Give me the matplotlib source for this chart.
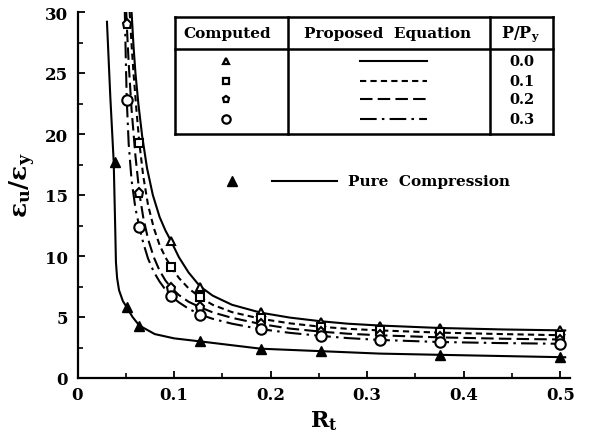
import matplotlib
matplotlib.use('Agg')
import matplotlib.pyplot as plt
from matplotlib.lines import Line2D
from matplotlib.ticker import MultipleLocator, FixedLocator
import numpy as np

nan = np.nan

# ---------------- data ----------------
load_ratio_labels = ['0.0', '0.1', '0.2', '0.3']

rt_computed = [0.051, 0.064, 0.097, 0.127, 0.19, 0.252, 0.313, 0.375, 0.5]
comp_p00 = [nan, nan, 11.2, 7.5, 5.4, 4.6, 4.3, 4.1, 3.9]
comp_p01 = [nan, 19.3, 9.1, 6.6, 4.9, 4.2, 3.9, 3.75, 3.5]
comp_p02 = [29.0, 15.2, 7.4, 5.8, 4.4, 3.8, 3.5, 3.35, 3.15]
comp_p03 = [22.8, 12.4, 6.7, 5.2, 4.0, 3.45, 3.1, 2.95, 2.8]

# proposed-equation curves
eq_p00_x = [0.056, 0.058, 0.060, 0.063, 0.067, 0.072, 0.078, 0.085, 0.091, 0.097, 0.105, 0.115, 0.127, 0.140, 0.160, 0.190, 0.220, 0.252, 0.280, 0.313, 0.375, 0.440, 0.505]
eq_p00_y = [30.0, 27.2, 25.0, 22.5, 19.8, 17.2, 15.0, 13.2, 12.1, 11.2, 9.9, 8.65, 7.5, 6.75, 6.0, 5.35, 4.95, 4.65, 4.45, 4.3, 4.1, 3.98, 3.9]
eq_p01_x = [0.054, 0.056, 0.058, 0.061, 0.064, 0.068, 0.073, 0.079, 0.085, 0.091, 0.097, 0.105, 0.115, 0.127, 0.140, 0.160, 0.190, 0.220, 0.252, 0.280, 0.313, 0.375, 0.440, 0.505]
eq_p01_y = [30.0, 27.3, 25.0, 22.0, 19.3, 16.6, 14.2, 12.3, 10.9, 9.9, 9.1, 8.2, 7.35, 6.6, 6.0, 5.4, 4.85, 4.48, 4.2, 4.03, 3.9, 3.72, 3.6, 3.5]
eq_p02_x = [0.0505, 0.051, 0.053, 0.056, 0.060, 0.064, 0.068, 0.073, 0.079, 0.085, 0.091, 0.097, 0.105, 0.115, 0.127, 0.140, 0.160, 0.190, 0.220, 0.252, 0.280, 0.313, 0.375, 0.440, 0.505]
eq_p02_y = [30.0, 29.0, 25.8, 22.0, 18.2, 15.2, 13.2, 11.4, 9.9, 8.8, 8.0, 7.4, 6.8, 6.25, 5.8, 5.38, 4.93, 4.42, 4.05, 3.8, 3.63, 3.5, 3.33, 3.22, 3.15]
eq_p03_x = [0.049, 0.050, 0.051, 0.053, 0.056, 0.060, 0.064, 0.068, 0.073, 0.079, 0.085, 0.091, 0.097, 0.105, 0.115, 0.127, 0.140, 0.160, 0.190, 0.220, 0.252, 0.280, 0.313, 0.375, 0.440, 0.505]
eq_p03_y = [30.0, 26.2, 22.8, 19.2, 16.2, 13.9, 12.4, 11.1, 9.8, 8.7, 7.9, 7.25, 6.7, 6.2, 5.68, 5.2, 4.85, 4.45, 4.0, 3.7, 3.45, 3.27, 3.12, 2.95, 2.86, 2.8]

# pure compression
pc_x = [0.039, 0.051, 0.064, 0.127, 0.19, 0.252, 0.375, 0.5]
pc_y = [17.7, 5.8, 4.3, 3.0, 2.4, 2.2, 1.9, 1.7]
pc_curve_x = [0.0305, 0.034, 0.0375, 0.039, 0.0398, 0.041, 0.043, 0.047, 0.051, 0.057, 0.064, 0.080, 0.100, 0.127, 0.190, 0.252, 0.313, 0.375, 0.440, 0.505]
pc_curve_y = [29.2, 23.0, 17.7, 12.5, 9.5, 8.2, 7.2, 6.3, 5.8, 5.0, 4.3, 3.6, 3.25, 3.0, 2.4, 2.2, 2.0, 1.9, 1.8, 1.7]

x_ticks = [0, 0.1, 0.2, 0.3, 0.4, 0.5]
x_tick_labels = ['0', '0.1', '0.2', '0.3', '0.4', '0.5']
y_ticks = [0, 5, 10, 15, 20, 25, 30]

# ---------------- styling ----------------
W, H = 599, 435
plt.rcParams['font.family'] = 'DejaVu Serif'
plt.rcParams['font.weight'] = 'bold'
plt.rcParams['mathtext.fontset'] = 'dejavuserif'

fig = plt.figure(figsize=(W / 100, H / 100), dpi=100)
fig.patch.set_facecolor('white')

L, R, T, B = 77.5, 570, 13, 379
ax = fig.add_axes([L / W, 1 - B / H, (R - L) / W, (B - T) / H])
ax.set_xlim(0, 0.51)
ax.set_ylim(0, 30)

for s in ['top', 'right']:
    ax.spines[s].set_visible(False)
for s in ['left', 'bottom']:
    ax.spines[s].set_linewidth(1.6)

ax.xaxis.set_major_locator(FixedLocator(x_ticks))
ax.set_xticklabels(x_tick_labels)
ax.xaxis.set_minor_locator(MultipleLocator(0.05))
ax.yaxis.set_major_locator(FixedLocator(y_ticks))
ax.yaxis.set_minor_locator(MultipleLocator(2.5))
ax.tick_params(which='major', direction='in', length=5, width=1.3, labelsize=12, pad=7)
ax.tick_params(which='minor', direction='in', length=3.5, width=1.2)
ax.tick_params(axis='x', which='major', pad=6)
for lab in ax.get_xticklabels() + ax.get_yticklabels():
    lab.set_fontweight('bold')

ax.set_xlabel(r'$\mathbf{R_t}$', fontsize=16, labelpad=4)
ax.set_ylabel(r'$\mathbf{\varepsilon_u/\varepsilon_y}$', fontsize=18)
ax.yaxis.set_label_coords(-0.08, 0.53)

lw = 1.5
styles = [dict(ls='-'),
          dict(ls=(0, (3, 2))),
          dict(ls=(0, (6, 2.5))),
          dict(ls=(0, (8, 2.5, 1.2, 2.5)))]
markers = [dict(marker='^', ms=6), dict(marker='s', ms=5.5),
           dict(marker='p', ms=6.5), dict(marker='o', ms=7.5)]

curves = [(eq_p00_x, eq_p00_y), (eq_p01_x, eq_p01_y), (eq_p02_x, eq_p02_y), (eq_p03_x, eq_p03_y)]
comps = [comp_p00, comp_p01, comp_p02, comp_p03]

for (cx, cy), st in zip(curves, styles):
    ax.plot(cx, cy, color='black', lw=lw, clip_on=True, **st)
for yv, mk in zip(comps, markers):
    ax.plot(rt_computed, yv, ls='none', mfc='white', mec='black', mew=1.5, zorder=5, clip_on=False, **mk)

ax.plot(pc_curve_x, pc_curve_y, color='black', lw=lw)
ax.plot(pc_x, pc_y, ls='none', marker='^', ms=7, color='black', zorder=5, clip_on=False)

# ---------------- legend table (figure pixel layout) ----------------
def fx(px):
    return px / W

def fy(py):
    return 1 - py / H

def fline(x0, y0, x1, y1, **kw):
    fig.add_artist(Line2D([fx(x0), fx(x1)], [fy(y0), fy(y1)], transform=fig.transFigure, color='black', **kw))

tl, tr, tt, tb = 175, 553, 18, 135
hb = 50
c1, c2 = 288, 490
blw = 1.8
fline(tl, tt, tr, tt, lw=blw)
fline(tl, tb, tr, tb, lw=blw)
fline(tl, tt, tl, tb, lw=blw)
fline(tr, tt, tr, tb, lw=blw)
fline(tl, hb, tr, hb, lw=blw)
fline(c1, tt, c1, tb, lw=blw)
fline(c2, tt, c2, tb, lw=blw)

hy = 34
fig.text(fx(227), fy(hy), 'Computed', ha='center', va='center', fontsize=11, fontweight='bold')
fig.text(fx(388), fy(hy), 'Proposed  Equation', ha='center', va='center', fontsize=11, fontweight='bold')
fig.text(fx(520), fy(hy), r'$\mathbf{P/P_y}$', ha='center', va='center', fontsize=11.5)

row_y = [62, 82, 100, 120]
leg_ms = [4.5, 4.5, 5, 6]
for i, ry in enumerate(row_y):
    mk = dict(markers[i])
    mk['ms'] = leg_ms[i]
    fig.add_artist(Line2D([fx(226)], [fy(ry)], transform=fig.transFigure, ls='none',
                          mfc='white', mec='black', mew=1.6, **mk))
    fig.add_artist(Line2D([fx(360), fx(427)], [fy(ry), fy(ry)], transform=fig.transFigure,
                          color='black', lw=1.5, **styles[i]))
    fig.text(fx(522), fy(ry), load_ratio_labels[i], ha='center', va='center', fontsize=10.5, fontweight='bold')

# pure compression legend
py_ = 182
fig.add_artist(Line2D([fx(232)], [fy(py_)], transform=fig.transFigure, ls='none',
                      marker='^', ms=7, color='black'))
fline(272, py_, 337, py_, lw=1.5)
fig.text(fx(348), fy(py_), 'Pure  Compression', ha='left', va='center', fontsize=11, fontweight='bold')

fig.savefig('out.png', dpi=100, facecolor='white')
